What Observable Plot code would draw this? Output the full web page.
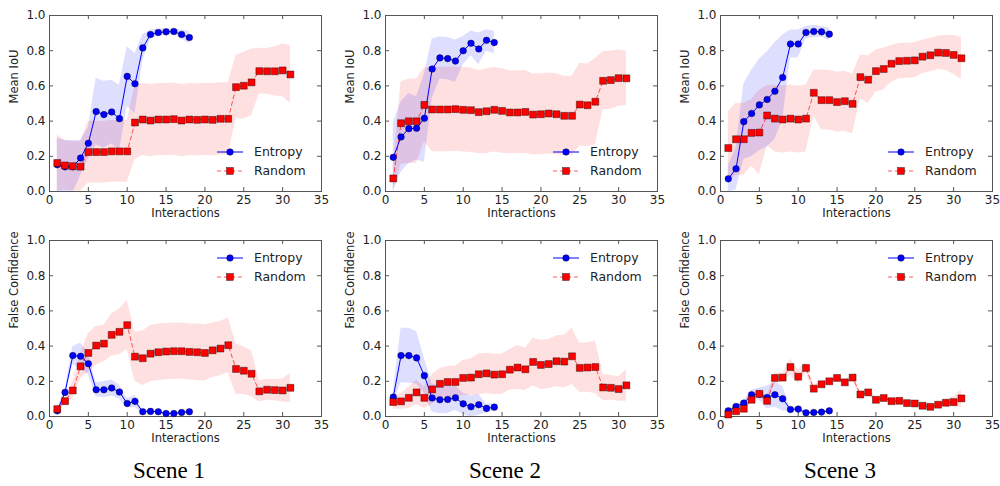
<!DOCTYPE html>
<html><head><meta charset="utf-8">
<script src="https://cdn.jsdelivr.net/npm/d3@7"></script>
<script src="https://cdn.jsdelivr.net/npm/@observablehq/plot@0.6"></script>
<style>
body{margin:0;background:#fff;}
#wrap{position:relative;width:1000px;height:486px;overflow:hidden;background:#fff;}
.panel{position:absolute;width:335px;height:225px;}
.panel svg{max-width:none !important;display:block;}
.scene{position:absolute;font-family:"Liberation Serif","Times New Roman",serif;font-size:23px;color:#000;transform:translateX(-50%);white-space:nowrap;line-height:1;}
</style></head><body><div id="wrap"></div>
<script>
// ---------- data ----------
const xTicks = [0, 5, 10, 15, 20, 25, 30, 35];
const yTicks = [0, 0.2, 0.4, 0.6, 0.8, 1.0];
const sceneLabels = ["Scene 1", "Scene 2", "Scene 3"];
const seriesNames = ["Entropy", "Random"];
const metricLabels = ["Mean IoU", "False Confidence"];
const xLabel = "Interactions";

// Mean IoU — Scene 1
const iou1Entropy = [0.152,0.14,0.14,0.19,0.274,0.454,0.437,0.452,0.414,0.654,0.612,0.816,0.892,0.903,0.907,0.909,0.892,0.875];
const iou1EntropyStd = [0.15,0.15,0.15,0.10,0.09,0.19,0.19,0.18,0.19,0.17,0.17,0.075,0.025,0.02,0.018,0.015,0.025,0.035];
const iou1Random = [0.162,0.148,0.144,0.141,0.224,0.224,0.224,0.228,0.228,0.228,0.392,0.409,0.403,0.409,0.409,0.411,0.403,0.409,0.407,0.409,0.407,0.413,0.413,0.593,0.601,0.62,0.684,0.683,0.683,0.688,0.665];
const iou1RandomStd = [0.16,0.14,0.14,0.14,0.175,0.175,0.175,0.175,0.175,0.175,0.21,0.205,0.205,0.205,0.205,0.205,0.205,0.205,0.205,0.205,0.205,0.205,0.205,0.18,0.19,0.19,0.13,0.13,0.14,0.15,0.165];

// Mean IoU — Scene 2
const iou2Entropy = [0.194,0.31,0.357,0.359,0.416,0.696,0.759,0.755,0.741,0.80,0.842,0.81,0.859,0.846];
const iou2EntropyStd = [0.195,0.2,0.2,0.18,0.25,0.17,0.12,0.12,0.12,0.08,0.07,0.09,0.06,0.065];
const iou2Random = [0.074,0.388,0.399,0.399,0.492,0.466,0.466,0.466,0.468,0.464,0.462,0.451,0.456,0.464,0.458,0.449,0.449,0.452,0.437,0.439,0.443,0.439,0.43,0.43,0.494,0.49,0.51,0.629,0.633,0.644,0.643];
const iou2RandomStd = [0.07,0.235,0.24,0.24,0.21,0.24,0.24,0.24,0.24,0.24,0.24,0.235,0.24,0.24,0.24,0.235,0.235,0.235,0.23,0.23,0.23,0.23,0.225,0.225,0.235,0.235,0.245,0.165,0.165,0.16,0.155];

// Mean IoU — Scene 3
const iou3Entropy = [0.072,0.129,0.397,0.443,0.492,0.523,0.57,0.648,0.838,0.838,0.903,0.909,0.907,0.894];
const iou3EntropyStd = [0.075,0.12,0.215,0.245,0.26,0.27,0.275,0.24,0.08,0.08,0.035,0.035,0.03,0.035];
const iou3Random = [0.247,0.297,0.297,0.333,0.335,0.432,0.414,0.409,0.414,0.409,0.414,0.561,0.519,0.519,0.508,0.513,0.498,0.65,0.635,0.684,0.696,0.726,0.741,0.743,0.745,0.766,0.774,0.789,0.787,0.776,0.757];
const iou3RandomStd = [0.205,0.205,0.205,0.19,0.24,0.17,0.19,0.19,0.19,0.19,0.19,0.13,0.17,0.17,0.17,0.17,0.17,0.125,0.135,0.12,0.12,0.105,0.1,0.1,0.1,0.095,0.095,0.095,0.1,0.11,0.12];

// False Confidence — Scene 1
const fc1Entropy = [0.032,0.137,0.346,0.342,0.30,0.152,0.152,0.162,0.139,0.074,0.086,0.027,0.029,0.027,0.017,0.017,0.023,0.027];
const fc1EntropyStd = [0.01,0.02,0.05,0.075,0.06,0.04,0.045,0.045,0.04,0.025,0.035,0.008,0.005,0.005,0.005,0.005,0.005,0.005];
const fc1Random = [0.042,0.087,0.148,0.285,0.361,0.403,0.414,0.464,0.481,0.519,0.34,0.331,0.357,0.365,0.369,0.371,0.371,0.367,0.365,0.361,0.376,0.386,0.405,0.27,0.26,0.243,0.143,0.152,0.15,0.148,0.163];
const fc1RandomStd = [0.015,0.02,0.05,0.07,0.11,0.11,0.105,0.12,0.13,0.14,0.14,0.155,0.16,0.16,0.16,0.16,0.16,0.16,0.16,0.16,0.155,0.155,0.155,0.145,0.135,0.13,0.06,0.06,0.06,0.065,0.083];

// False Confidence — Scene 2
const fc2Entropy = [0.110,0.346,0.346,0.333,0.232,0.105,0.095,0.097,0.106,0.072,0.055,0.067,0.046,0.053];
const fc2EntropyStd = [0.03,0.155,0.155,0.15,0.1,0.08,0.08,0.08,0.07,0.06,0.06,0.06,0.025,0.02];
const fc2Random = [0.082,0.086,0.106,0.137,0.106,0.154,0.186,0.196,0.196,0.219,0.221,0.240,0.245,0.238,0.240,0.266,0.278,0.268,0.31,0.293,0.298,0.314,0.312,0.342,0.276,0.278,0.281,0.165,0.163,0.156,0.177];
const fc2RandomStd = [0.04,0.045,0.06,0.07,0.06,0.085,0.085,0.09,0.09,0.1,0.105,0.115,0.115,0.115,0.115,0.115,0.125,0.12,0.135,0.14,0.14,0.145,0.15,0.16,0.14,0.14,0.15,0.075,0.07,0.07,0.09];

// False Confidence — Scene 3
const fc3Entropy = [0.032,0.057,0.076,0.124,0.127,0.108,0.124,0.101,0.04,0.042,0.021,0.023,0.025,0.032];
const fc3EntropyStd = [0.01,0.01,0.015,0.025,0.035,0.065,0.07,0.07,0.01,0.01,0.005,0.005,0.005,0.005];
const fc3Random = [0.011,0.03,0.044,0.095,0.129,0.089,0.219,0.221,0.281,0.226,0.276,0.158,0.183,0.2,0.219,0.194,0.221,0.125,0.137,0.095,0.105,0.087,0.089,0.076,0.074,0.061,0.055,0.067,0.078,0.082,0.103];
const fc3RandomStd = [0.008,0.01,0.01,0.012,0.015,0.025,0.03,0.025,0.045,0.04,0.03,0.02,0.015,0.015,0.015,0.015,0.015,0.015,0.015,0.012,0.012,0.01,0.01,0.01,0.01,0.01,0.01,0.012,0.02,0.03,0.05];

// ---------- layout ----------
const BLUE = "#0000ff", RED = "#ff0000", FRAME = "#555";
const W = 335, H = 225, ML = 49, MR = 14, MT = 15, MB = 34;
const PW = W - ML - MR, PH = H - MT - MB;
const panelLeft = [0, 336, 671];
const panelTop = [0, 225];
const sceneCenter = [169, 505, 840];

const wrap = document.getElementById("wrap");

function rows(mean, std) {
  return mean.map((m, i) => ({x: i + 1, m, s: std[i]}));
}

function makePanel(metric, scene, eMean, eStd, rMean, rStd) {
  const eRows = rows(eMean, eStd), rRows = rows(rMean, rStd);
  const chart = Plot.plot({
    width: W, height: H,
    marginLeft: ML, marginRight: MR, marginTop: MT, marginBottom: MB,
    style: {fontFamily: "DejaVu Sans", fontSize: "12px", color: "#222", background: "transparent", overflow: "visible", maxWidth: "none"},
    x: {domain: [0, 35]},
    y: {domain: [0, 1]},
    marks: [
      Plot.areaY(rRows, {x: "x", y1: d => d.m - d.s, y2: d => d.m + d.s, fill: RED, fillOpacity: 0.12, clip: true}),
      Plot.areaY(eRows, {x: "x", y1: d => d.m - d.s, y2: d => d.m + d.s, fill: BLUE, fillOpacity: 0.13, clip: true}),
      Plot.tickX(xTicks, {x: d => d, insetTop: PH - 4, stroke: FRAME}),
      Plot.tickX(xTicks, {x: d => d, insetBottom: PH - 4, stroke: FRAME}),
      Plot.tickY(yTicks, {y: d => d, insetRight: PW - 4, stroke: FRAME}),
      Plot.tickY(yTicks, {y: d => d, insetLeft: PW - 4, stroke: FRAME}),
      Plot.frame({stroke: FRAME}),
      Plot.line(rRows, {x: "x", y: "m", stroke: RED, strokeOpacity: 0.65, strokeWidth: 1, strokeDasharray: "4,3"}),
      Plot.line(eRows, {x: "x", y: "m", stroke: BLUE, strokeWidth: 1}),
      Plot.dot(eRows, {x: "x", y: "m", symbol: "circle", r: 3.3, fill: BLUE, stroke: "#000", strokeWidth: 0.4}),
      Plot.dot(rRows, {x: "x", y: "m", symbol: "square", r: 3.9, fill: RED, stroke: "#000", strokeWidth: 0.4}),
      Plot.axisX({ticks: xTicks, tickSize: 0, tickPadding: 4, label: null, tickFormat: d3.format("d")}),
      Plot.axisY({ticks: yTicks, tickSize: 0, tickPadding: 4, label: null, tickFormat: d3.format(".1f")}),
      Plot.text([xLabel], {frameAnchor: "bottom", dy: 17, lineAnchor: "top", fontSize: 11.5, fill: "#222"}),
      Plot.text([metricLabels[metric]], {frameAnchor: "left", dx: -35, rotate: -90, fontSize: 11.5, fill: "#222"})
    ]
  });
  // legend
  const svg = d3.select(chart);
  const g = svg.append("g").attr("font-family", "DejaVu Sans").attr("font-size", "12.5px").attr("fill", "#222").attr("text-anchor", "start");
  const xr = ML + PW;
  const ys = metric === 0 ? [MT + PH - 39, MT + PH - 20] : [MT + 18, MT + 37];
  const ent = g.append("g");
  ent.append("line").attr("x1", xr - 104).attr("x2", xr - 78).attr("y1", ys[0]).attr("y2", ys[0]).attr("stroke", BLUE);
  ent.append("circle").attr("cx", xr - 91).attr("cy", ys[0]).attr("r", 3.3).attr("fill", BLUE).attr("stroke", "#000").attr("stroke-width", 0.4);
  ent.append("text").attr("x", xr - 67).attr("y", ys[0]).attr("dy", "0.35em").attr("text-anchor", "start").text(seriesNames[0]);
  const rnd = g.append("g");
  rnd.append("line").attr("x1", xr - 104).attr("x2", xr - 78).attr("y1", ys[1]).attr("y2", ys[1]).attr("stroke", RED).attr("stroke-opacity", 0.65).attr("stroke-dasharray", "4,3");
  rnd.append("rect").attr("x", xr - 91 - 3.45).attr("y", ys[1] - 3.45).attr("width", 6.9).attr("height", 6.9).attr("fill", RED).attr("stroke", "#000").attr("stroke-width", 0.4);
  rnd.append("text").attr("x", xr - 67).attr("y", ys[1]).attr("dy", "0.35em").attr("text-anchor", "start").text(seriesNames[1]);

  const div = document.createElement("div");
  div.className = "panel";
  div.style.left = panelLeft[scene] + "px";
  div.style.top = panelTop[metric] + "px";
  div.appendChild(chart);
  wrap.appendChild(div);
}

makePanel(0, 0, iou1Entropy, iou1EntropyStd, iou1Random, iou1RandomStd);
makePanel(0, 1, iou2Entropy, iou2EntropyStd, iou2Random, iou2RandomStd);
makePanel(0, 2, iou3Entropy, iou3EntropyStd, iou3Random, iou3RandomStd);
makePanel(1, 0, fc1Entropy, fc1EntropyStd, fc1Random, fc1RandomStd);
makePanel(1, 1, fc2Entropy, fc2EntropyStd, fc2Random, fc2RandomStd);
makePanel(1, 2, fc3Entropy, fc3EntropyStd, fc3Random, fc3RandomStd);

sceneLabels.forEach((s, i) => {
  const d = document.createElement("div");
  d.className = "scene";
  d.style.left = sceneCenter[i] + "px";
  d.style.top = "459px";
  d.textContent = s;
  wrap.appendChild(d);
});
</script></body></html>
